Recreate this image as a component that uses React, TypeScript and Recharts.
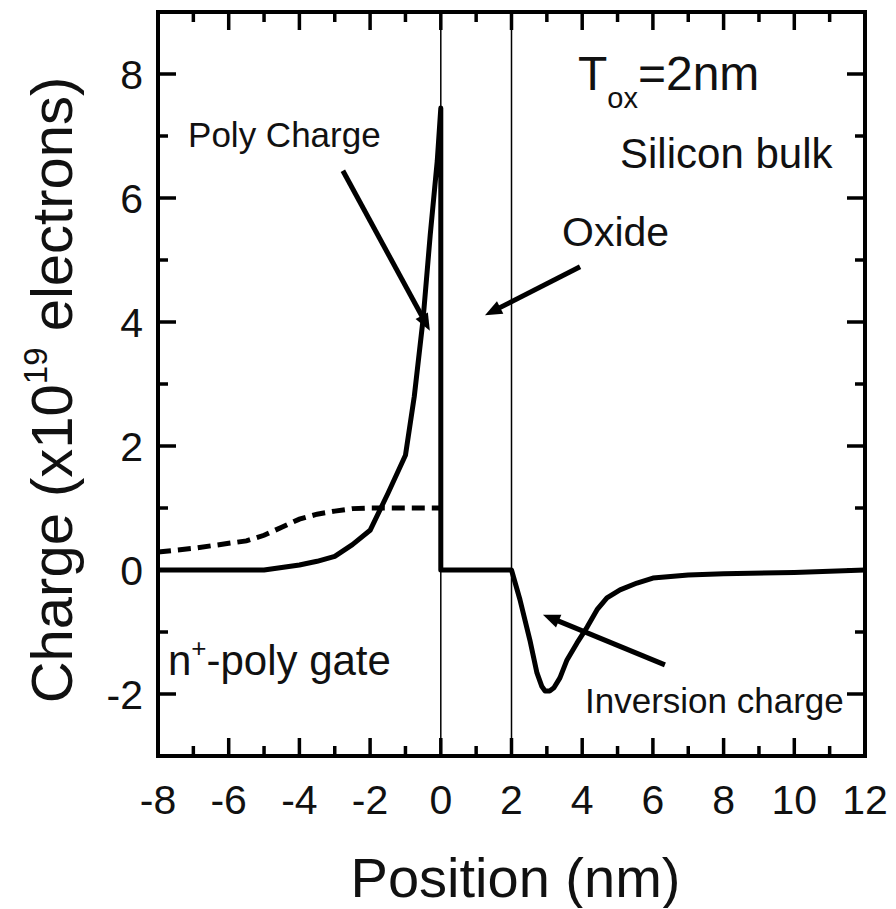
import React from "react";
import { Line, LineChart, ReferenceDot, ReferenceLine, XAxis, YAxis } from "recharts";

const FONT = '"Liberation Sans", Arial, Helvetica, sans-serif';
const INK = "#111";

// solid curve: poly charge, oxide (zero), inversion charge
const chargeX = [
    -8, -5, -4.5, -4, -3.5, -3, -2.5, -2, -1.5, -1, -0.75, -0.5, -0.3, -0.1, 0, 0,
    2, 2.24, 2.52, 2.72, 2.86, 2.95, 3.08, 3.2, 3.37, 3.57, 3.85, 4.14, 4.42, 4.7, 5.07,
    5.55, 6, 7, 8, 10, 12,
];
const chargeY = [
    0, 0, 0.04, 0.08, 0.14, 0.22, 0.41, 0.64, 1.23, 1.85, 2.8, 4.05, 5.4, 6.6, 7.45, 0,
    0, -0.48, -1.13, -1.66, -1.88, -1.95, -1.95, -1.9, -1.74, -1.45, -1.18, -0.92, -0.64, -0.45, -0.32,
    -0.21, -0.13, -0.08, -0.06, -0.04, 0,
];

// dashed curve: doping in the gate
const dopingX = [-8, -7, -6, -5.5, -5, -4.5, -4, -3.5, -3, -2.5, -2, 0];
const dopingY = [0.29, 0.35, 0.43, 0.47, 0.56, 0.69, 0.82, 0.9, 0.95, 0.99, 1.0, 1.0];

const xTicks = [-8, -7, -6, -5, -4, -3, -2, -1, 0, 1, 2, 3, 4, 5, 6, 7, 8, 9, 10, 11, 12];
const yTicks = [-2, -1, 0, 1, 2, 3, 4, 5, 6, 7, 8];
const oxideEdges = [0, 2];

const chargeData = chargeX.map((x, i) => ({ x, y: chargeY[i] }));
const dopingData = dopingX.map((x, i) => ({ x, y: dopingY[i] }));

const isMajor = (v: number) => Math.abs(v) % 2 === 0;
const tickLen = (v: number) => (isMajor(v) ? 18 : 10);

const BottomTick = (props: any) => {
    const { x, y, payload } = props;
    const v = payload.value;
    return (
        <g>
            <line x1={x} y1={y} x2={x} y2={y - tickLen(v)} stroke="#000" strokeWidth={3.5} />
            {isMajor(v) && (
                <text x={x} y={y + 58} textAnchor="middle" fontSize={41} fontFamily={FONT} fill={INK}>
                    {v}
                </text>
            )}
        </g>
    );
};

const TopTick = (props: any) => {
    const { x, y, payload } = props;
    return <line x1={x} y1={y} x2={x} y2={y + tickLen(payload.value)} stroke="#000" strokeWidth={3.5} />;
};

const LeftTick = (props: any) => {
    const { x, y, payload } = props;
    const v = payload.value;
    return (
        <g>
            <line x1={x} y1={y} x2={x + tickLen(v)} y2={y} stroke="#000" strokeWidth={3.5} />
            {isMajor(v) && (
                <text x={x - 15} y={y + 15} textAnchor="end" fontSize={41} fontFamily={FONT} fill={INK}>
                    {v}
                </text>
            )}
        </g>
    );
};

const RightTick = (props: any) => {
    const { x, y, payload } = props;
    return <line x1={x} y1={y} x2={x - tickLen(payload.value)} y2={y} stroke="#000" strokeWidth={3.5} />;
};

const XTitle = (props: any) => {
    const vb = props.viewBox;
    return (
        <text x={vb.x + vb.width / 2 + 4} y={vb.y + 141} textAnchor="middle" fontSize={56} fontFamily={FONT} fill={INK}>
            Position (nm)
        </text>
    );
};

const YTitle = () => {
    const cx = 64;
    const cy = 382;
    return (
        <text
            x={cx}
            y={cy}
            transform={`rotate(-90, ${cx}, ${cy})`}
            textAnchor="middle"
            fontSize={58}
            fontFamily={FONT}
            fill={INK}
        >
            Charge (x10
            <tspan fontSize={33} dy={-25}>19</tspan>
            <tspan dy={25}> electrons)</tspan>
        </text>
    );
};

const Arrow = (props: any) => {
    const { x1, y1, x2, y2 } = props;
    const dx = x2 - x1;
    const dy = y2 - y1;
    const len = Math.hypot(dx, dy) || 1;
    const ux = dx / len;
    const uy = dy / len;
    const head = 17;
    const half = 7;
    const bx = x2 - ux * head;
    const by = y2 - uy * head;
    const pts = `${x2},${y2} ${bx - uy * half},${by + ux * half} ${bx + uy * half},${by - ux * half}`;
    return (
        <g>
            <line x1={x1} y1={y1} x2={bx + ux * 2} y2={by + uy * 2} stroke="#000" strokeWidth={5} />
            <polygon points={pts} fill="#000" />
        </g>
    );
};

const note = (children: React.ReactNode, size: number) => (props: any) => (
    <text x={props.cx} y={props.cy} fontSize={size} fontFamily={FONT} fill={INK}>
        {children}
    </text>
);

// annotation anchors (data units)
const polyArrow = [{ x: -2.77, y: 6.44 }, { x: -0.31, y: 3.86 }];
const oxideArrow = [{ x: 3.94, y: 4.89 }, { x: 1.25, y: 4.11 }];
const inversionArrow = [{ x: 6.34, y: -1.53 }, { x: 2.89, y: -0.72 }];

const frameLine = { stroke: "#000", strokeWidth: 4, strokeLinecap: "square" as const };

export default function App() {
    return (
        <LineChart width={880} height={900} margin={{ top: 3, right: 22, left: 0, bottom: 0 }}>
            <XAxis
                xAxisId="b"
                type="number"
                dataKey="x"
                domain={[-8, 12]}
                ticks={xTicks}
                interval={0}
                allowDataOverflow
                height={152}
                tickSize={0}
                tickMargin={0}
                tickLine={false}
                tick={BottomTick}
                axisLine={frameLine}
                label={XTitle}
            />
            <XAxis
                xAxisId="t"
                orientation="top"
                type="number"
                dataKey="x"
                domain={[-8, 12]}
                ticks={xTicks}
                interval={0}
                allowDataOverflow
                height={1}
                tickSize={0}
                tickMargin={0}
                tickLine={false}
                tick={TopTick}
                axisLine={frameLine}
            />
            <YAxis
                yAxisId="l"
                type="number"
                domain={[-3, 9]}
                ticks={yTicks}
                interval={0}
                allowDataOverflow
                width={150}
                tickSize={0}
                tickMargin={0}
                tickLine={false}
                tick={LeftTick}
                axisLine={frameLine}
                label={YTitle}
            />
            <YAxis
                yAxisId="r"
                orientation="right"
                type="number"
                domain={[-3, 9]}
                ticks={yTicks}
                interval={0}
                allowDataOverflow
                width={1}
                tickSize={0}
                tickMargin={0}
                tickLine={false}
                tick={RightTick}
                axisLine={frameLine}
            />

            {oxideEdges.map((x) => (
                <ReferenceLine key={x} x={x} xAxisId="b" yAxisId="l" stroke="#000" strokeWidth={1.5} />
            ))}

            <Line
                xAxisId="b"
                yAxisId="l"
                data={dopingData}
                dataKey="y"
                type="linear"
                stroke="#000"
                strokeWidth={5}
                strokeDasharray="13 7"
                dot={false}
                isAnimationActive={false}
            />
            <Line
                xAxisId="b"
                yAxisId="l"
                data={chargeData}
                dataKey="y"
                type="linear"
                stroke="#000"
                strokeWidth={5}
                strokeLinejoin="round"
                dot={false}
                isAnimationActive={false}
            />

            <ReferenceLine xAxisId="b" yAxisId="l" segment={polyArrow} shape={Arrow} />
            <ReferenceLine xAxisId="b" yAxisId="l" segment={oxideArrow} shape={Arrow} />
            <ReferenceLine xAxisId="b" yAxisId="l" segment={inversionArrow} shape={Arrow} />

            <ReferenceDot xAxisId="b" yAxisId="l" x={-7.15} y={6.83} shape={note("Poly Charge", 35)} />
            <ReferenceDot
                xAxisId="b"
                yAxisId="l"
                x={3.88}
                y={7.75}
                shape={note(
                    <>
                        T<tspan fontSize={29} dy={18}>ox</tspan>
                        <tspan dy={-18}>=2nm</tspan>
                    </>,
                    48,
                )}
            />
            <ReferenceDot xAxisId="b" yAxisId="l" x={5.07} y={6.49} shape={note("Silicon bulk", 42)} />
            <ReferenceDot xAxisId="b" yAxisId="l" x={3.43} y={5.23} shape={note("Oxide", 41)} />
            <ReferenceDot xAxisId="b" yAxisId="l" x={4.08} y={-2.3} shape={note("Inversion charge", 35)} />
            <ReferenceDot
                xAxisId="b"
                yAxisId="l"
                x={-7.72}
                y={-1.69}
                shape={note(
                    <>
                        n<tspan fontSize={26} dy={-18}>+</tspan>
                        <tspan dy={18}>-poly gate</tspan>
                    </>,
                    42,
                )}
            />
        </LineChart>
    );
}
